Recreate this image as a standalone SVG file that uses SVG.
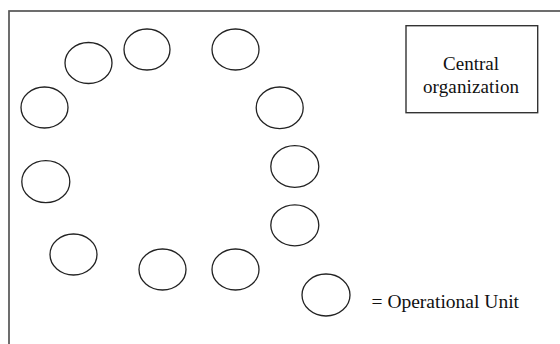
<svg xmlns="http://www.w3.org/2000/svg" width="560" height="344" viewBox="0 0 560 344">
<style>
.unit{fill:#fff;stroke:#222;stroke-width:1.3}
.frame{fill:none;stroke:#555;stroke-width:1.7}
.box{fill:#fff;stroke:#333;stroke-width:1.4}
.t{font-family:"Liberation Serif","Times New Roman",serif;font-size:19px;fill:#111}
</style>
<rect width="560" height="344" fill="#fff"/>
<rect class="frame" x="9" y="11" width="560" height="345"/>
<g id="connectors"/>
<g id="central">
<rect class="box" x="406" y="25.7" width="131.7" height="87"/>
<text class="t" x="471" y="70" text-anchor="middle">Central</text>
<text class="t" x="471" y="92.5" text-anchor="middle" textLength="96" lengthAdjust="spacing">organization</text>
</g>
<g id="unit1"><ellipse class="unit" cx="88.5" cy="63" rx="23.5" ry="20.5"/></g>
<g id="unit2"><ellipse class="unit" cx="147" cy="49.5" rx="23" ry="20.5"/></g>
<g id="unit3"><ellipse class="unit" cx="235.5" cy="49.5" rx="23.5" ry="20.5"/></g>
<g id="unit4"><ellipse class="unit" cx="44.5" cy="107.5" rx="23.5" ry="20.5"/></g>
<g id="unit5"><ellipse class="unit" cx="279.7" cy="107.8" rx="23.5" ry="20.8"/></g>
<g id="unit6"><ellipse class="unit" cx="45.8" cy="181.7" rx="24" ry="21"/></g>
<g id="unit7"><ellipse class="unit" cx="294.8" cy="166.5" rx="24" ry="20.8"/></g>
<g id="unit8"><ellipse class="unit" cx="294.8" cy="225.3" rx="24" ry="20.5"/></g>
<g id="unit9"><ellipse class="unit" cx="73.5" cy="254.5" rx="23.5" ry="20.5"/></g>
<g id="unit10"><ellipse class="unit" cx="162.5" cy="269.5" rx="23.5" ry="20.5"/></g>
<g id="unit11"><ellipse class="unit" cx="235.5" cy="269.5" rx="23.5" ry="20.5"/></g>
<g id="legend">
<ellipse class="unit" cx="326" cy="295" rx="24" ry="21"/>
<text class="t" x="371.5" y="308.3" textLength="147.5" lengthAdjust="spacingAndGlyphs">= Operational Unit</text>
</g>
</svg>
